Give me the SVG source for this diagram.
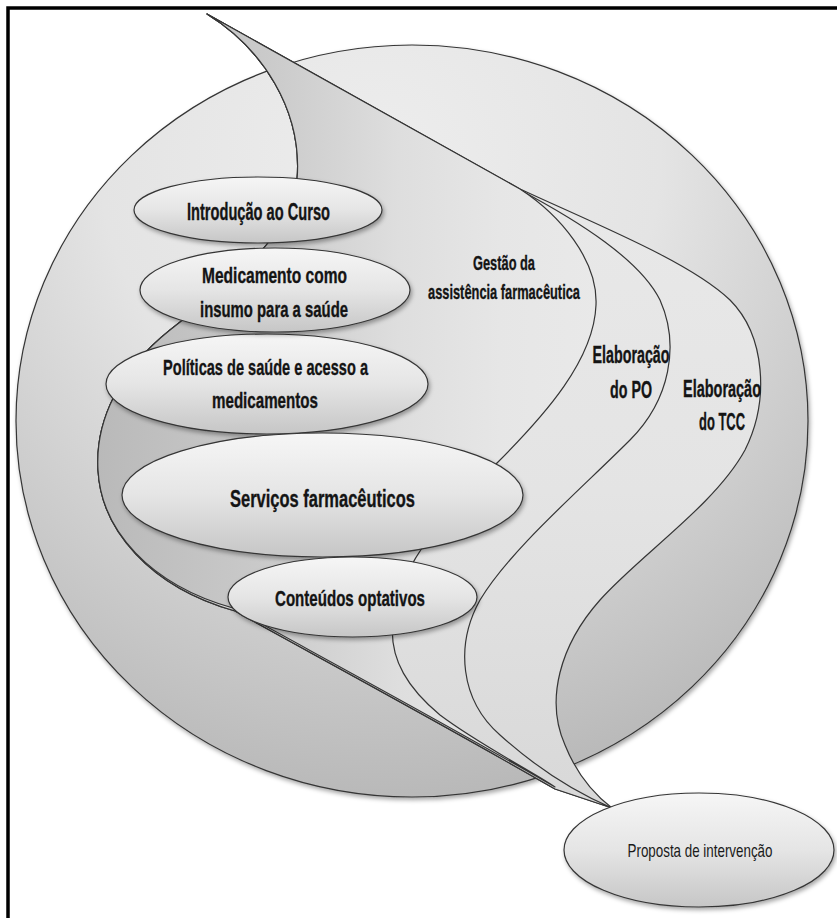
<svg xmlns="http://www.w3.org/2000/svg" width="837" height="918" viewBox="0 0 837 918">
<defs>
<radialGradient id="gCircle" gradientUnits="userSpaceOnUse" cx="380" cy="160" r="700">
<stop offset="0" stop-color="#ededed"/>
<stop offset="0.4" stop-color="#e4e4e4"/>
<stop offset="0.65" stop-color="#cfcfcf"/>
<stop offset="0.92" stop-color="#b8b8b8"/>
</radialGradient>
<linearGradient id="gG" gradientUnits="userSpaceOnUse" x1="97" y1="0" x2="600" y2="0">
<stop offset="0" stop-color="#b9b9b9"/>
<stop offset="0.35" stop-color="#cbcbcb"/>
<stop offset="0.6" stop-color="#dedede"/>
<stop offset="0.8" stop-color="#e6e6e6"/>
<stop offset="1" stop-color="#e9e9e9"/>
</linearGradient>
<linearGradient id="gBand" gradientUnits="userSpaceOnUse" x1="0" y1="14" x2="0" y2="808">
<stop offset="0" stop-color="#ebebeb"/>
<stop offset="0.6" stop-color="#e4e4e4"/>
<stop offset="1" stop-color="#d8d8d8"/>
</linearGradient>
<linearGradient id="gEll" x1="0" y1="0" x2="0" y2="1">
<stop offset="0" stop-color="#f6f6f6"/>
<stop offset="0.5" stop-color="#e5e5e5"/>
<stop offset="1" stop-color="#c6c6c6"/>
</linearGradient>
<filter id="sh" x="-10%" y="-10%" width="120%" height="130%">
<feDropShadow dx="1.5" dy="2.5" stdDeviation="2" flood-color="#000" flood-opacity="0.35"/>
</filter>
</defs>
<style>
.ln{stroke:#353535;stroke-width:1.2;stroke-linejoin:round}
.ell{fill:url(#gEll);stroke:#353535;stroke-width:1.2;filter:url(#sh)}
.lbl{font-family:"Liberation Sans",Arial,sans-serif;font-weight:bold;fill:#141414;stroke:#141414;stroke-width:0.35;text-anchor:middle}
.thin{font-family:"Liberation Sans",Arial,sans-serif;font-weight:normal;fill:#1a1a1a;text-anchor:middle}
</style>

<g id="frame">
<rect x="8" y="8" width="900" height="1000" fill="none" stroke="#000" stroke-width="3.5"/>
</g>

<g id="circle">
<ellipse cx="412" cy="421" rx="396" ry="376" fill="url(#gCircle)" class="ln" filter="url(#sh)"/>
</g>

<g id="elaboracao-tcc">
<path class="ln" fill="url(#gBand)" d="M207,14 L520,189 C600,226 690,262 730,300 C765,335 770,400 745,450 C715,505 640,555 600,600 C560,645 545,700 565,745 C577,775 595,795 612,808 L555,789 C430,717 292,643 235,611 C150,587 101,530 98,470 C95,420 120,370 170,330 C220,290 292,240 297,180 C303,110 262,48 207,14 Z"/>
<text class="lbl" font-size="23" x="722" y="397" textLength="78" lengthAdjust="spacingAndGlyphs">Elaboração</text>
<text class="lbl" font-size="23" x="722" y="430" textLength="46" lengthAdjust="spacingAndGlyphs">do TCC</text>
</g>

<g id="elaboracao-po">
<path class="ln" fill="url(#gBand)" d="M207,14 L520,190 C580,222 640,260 660,300 C680,345 670,400 630,440 C580,490 510,550 480,600 C455,645 460,700 500,735 C530,762 570,790 612,808 L555,789 C430,717 292,643 235,611 C150,587 101,530 98,470 C95,420 120,370 170,330 C220,290 292,240 297,180 C303,110 262,48 207,14 Z"/>
<text class="lbl" font-size="23" x="631" y="363" textLength="77" lengthAdjust="spacingAndGlyphs">Elaboração</text>
<text class="lbl" font-size="23" x="631" y="398" textLength="42" lengthAdjust="spacingAndGlyphs">do PO</text>
</g>

<g id="gestao">
<path class="ln" fill="url(#gG)" d="M207,14 L520,189 C560,215 598,260 596,305 C594,360 545,415 497,463 C450,510 400,560 393,620 C388,660 410,690 440,715 C480,745 530,770 555,787 C430,715 290,640 233,608 C150,585 101,530 98,470 C95,420 120,370 170,330 C220,290 292,240 297,180 C303,110 262,48 207,14 Z"/>
<text class="lbl" font-size="21" x="504" y="270" textLength="62" lengthAdjust="spacingAndGlyphs">Gestão da</text>
<text class="lbl" font-size="21" x="504" y="299" textLength="152" lengthAdjust="spacingAndGlyphs">assistência farmacêutica</text>
</g>

<g id="introducao">
<ellipse class="ell" cx="258" cy="210" rx="124" ry="33"/>
<text class="lbl" font-size="23" x="258.5" y="220" textLength="143" lengthAdjust="spacingAndGlyphs">Introdução ao Curso</text>
</g>

<g id="politicas">
<ellipse class="ell" cx="267" cy="384" rx="161" ry="50"/>
<text class="lbl" font-size="22" x="265.5" y="375" textLength="205" lengthAdjust="spacingAndGlyphs">Políticas de saúde e acesso a</text>
<text class="lbl" font-size="22" x="265" y="408" textLength="106" lengthAdjust="spacingAndGlyphs">medicamentos</text>
</g>

<g id="medicamento">
<ellipse class="ell" cx="275" cy="290" rx="135" ry="42"/>
<text class="lbl" font-size="22" x="274.5" y="283" textLength="145" lengthAdjust="spacingAndGlyphs">Medicamento como</text>
<text class="lbl" font-size="22" x="274" y="317" textLength="148" lengthAdjust="spacingAndGlyphs">insumo para a saúde</text>
</g>

<g id="servicos">
<ellipse class="ell" cx="322.5" cy="495" rx="200.5" ry="62"/>
<text class="lbl" font-size="24" x="322.5" y="507" textLength="185" lengthAdjust="spacingAndGlyphs">Serviços farmacêuticos</text>
</g>

<g id="conteudos">
<ellipse class="ell" cx="352.5" cy="597" rx="124.5" ry="40"/>
<text class="lbl" font-size="22" x="350" y="606" textLength="150" lengthAdjust="spacingAndGlyphs">Conteúdos optativos</text>
</g>

<g id="proposta">
<ellipse class="ell" cx="699" cy="850" rx="135" ry="57"/>
<text class="thin" font-size="19" x="700" y="857" textLength="145" lengthAdjust="spacingAndGlyphs">Proposta de intervenção</text>
</g>

<g id="connectors"></g>
</svg>
